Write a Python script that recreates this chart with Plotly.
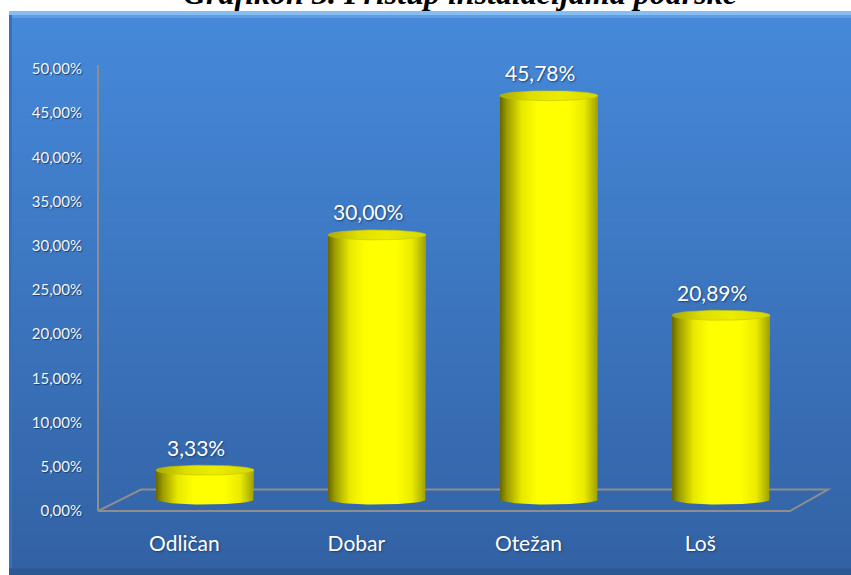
import numpy as np
import plotly.graph_objects as go

categories = ["Odličan", "Dobar", "Otežan", "Loš"]
values = [3.33, 30.00, 45.78, 20.89]
y_ticks = [0, 5, 10, 15, 20, 25, 30, 35, 40, 45, 50]
y_tick_labels = ["0,00%", "5,00%", "10,00%", "15,00%", "20,00%", "25,00%",
                 "30,00%", "35,00%", "40,00%", "45,00%", "50,00%"]
title_text = "Grafikon 3. Pristup instalacijama podrške"

W, H = 851, 575
L, R, T, B = 98, 23, 69, 63.5
PW, PH = W - L - R, H - T - B


def px_x(px):
    return (px - L) / PW


def px_y(py):
    return (H - B - py) / PH


def lerp(c1, c2, f):
    a = [int(c1[i:i + 2], 16) for i in (1, 3, 5)]
    b = [int(c2[i:i + 2], 16) for i in (1, 3, 5)]
    return "#%02x%02x%02x" % tuple(round(a[k] + (b[k] - a[k]) * f) for k in range(3))


shapes = []
# background panel gradient (each band runs to the panel bottom, so no seams)
top_px, bot_px, left_px = 12, 576, 9
n = 80
for k in range(n):
    y0 = top_px + (bot_px - top_px) * k / n
    col = lerp("#4689da", "#3262a4", k / (n - 1))
    shapes.append(dict(type="rect", xref="paper", yref="paper", layer="below",
                       x0=px_x(left_px), x1=px_x(W + 2), y0=px_y(bot_px), y1=px_y(y0),
                       fillcolor=col, line=dict(width=0)))
shapes.append(dict(type="rect", xref="paper", yref="paper", layer="below",
                   x0=px_x(left_px), x1=px_x(W + 2), y0=px_y(15), y1=px_y(11),
                   fillcolor="#86bdf2", line=dict(width=0)))
shapes.append(dict(type="rect", xref="paper", yref="paper", layer="below",
                   x0=px_x(left_px), x1=px_x(W + 2), y0=px_y(18), y1=px_y(15),
                   fillcolor="#5e9de2", line=dict(width=0)))
shapes.append(dict(type="rect", xref="paper", yref="paper", layer="below",
                   x0=px_x(left_px), x1=px_x(left_px + 3), y0=px_y(575), y1=px_y(15),
                   fillcolor="#3a70b8", line=dict(width=0)))
shapes.append(dict(type="rect", xref="paper", yref="paper", layer="below",
                   x0=px_x(left_px), x1=px_x(W + 2), y0=px_y(576), y1=px_y(569),
                   fillcolor="#2c5790", line=dict(width=0)))
# 3D floor and wall edge
floor = "M {} {} L {} {} L {} {} L {} {} Z".format(
    px_x(98), px_y(511.5), px_x(790), px_y(511.5), px_x(828), px_y(490), px_x(141), px_y(490))
shapes.append(dict(type="path", xref="paper", yref="paper", layer="below", path=floor,
                   line=dict(color="#8e8e8e", width=2)))
shapes.append(dict(type="line", xref="paper", yref="paper", layer="below",
                   x0=0, x1=0, y0=0, y1=px_y(65), line=dict(color="#8e8e8e", width=2)))

fig = go.Figure()

# value axis carrying the tick labels (transparent points keep it drawn)
fig.add_trace(go.Scatter(x=list(range(len(categories))), y=values, mode="markers",
                         marker=dict(size=1, opacity=0), yaxis="y2",
                         hoverinfo="skip", showlegend=False))

hw = 0.285
ry = 5 / 8.83
body_scale = [[0, "#666600"], [0.07, "#9c9c00"], [0.22, "#e8e800"], [0.38, "#ffff00"],
              [0.7, "#ffff00"], [0.86, "#eaea00"], [1, "#9e9e00"]]
cap_scale = [[0, "#a8a800"], [0.3, "#dede00"], [0.6, "#ecec00"], [1, "#d6d600"]]
t = np.linspace(0, np.pi, 40)
tt = np.linspace(0, 2 * np.pi, 90)
for i, v in enumerate(values):
    bx = [i - hw, i - hw, i + hw, i + hw] + list(i + hw * np.cos(t))
    by = [0, v, v, 0] + list(-ry * np.sin(t))
    fig.add_trace(go.Scatter(x=bx, y=by, mode="lines", fill="toself", line=dict(width=0),
                             fillgradient=dict(type="horizontal", colorscale=body_scale),
                             hoverinfo="skip", showlegend=False))
    fig.add_trace(go.Scatter(x=list(i + hw * np.cos(tt)), y=list(v + ry * np.sin(tt)),
                             mode="lines", fill="toself", line=dict(width=0.6, color="#c4c400"),
                             fillgradient=dict(type="horizontal", colorscale=cap_scale),
                             name=categories[i], hovertemplate="%{fullData.name}<extra></extra>",
                             showlegend=False))

annotations = []
for i, v in enumerate(values):
    annotations.append(dict(x=i - 0.05, y=v, xref="x", yref="y", yshift=23,
                            text=f"{v:.2f}%".replace(".", ","), showarrow=False,
                            font=dict(family="Lato", size=21, color="#ffffff",
                                      shadow="1px 1px 2px #1d3f70")))
annotations.append(dict(x=px_x(460), y=px_y(12.5), xref="paper", yref="paper",
                        yanchor="bottom", text="<b><i>" + title_text + "</i></b>",
                        showarrow=False,
                        font=dict(family="Liberation Serif", size=32, color="#000000")))

fig.update_layout(
    width=W, height=H,
    margin=dict(l=L, r=R, t=T, b=B),
    paper_bgcolor="#ffffff", plot_bgcolor="rgba(0,0,0,0)",
    showlegend=False,
    shapes=shapes,
    annotations=annotations,
    xaxis=dict(range=[-0.622, 3.622], tickvals=[i - 0.12 for i in range(len(categories))],
               ticktext=categories, showgrid=False, zeroline=False, showline=False,
               ticks="", ticklabelstandoff=18,
               tickfont=dict(family="Lato", size=21, color="#ffffff",
                             shadow="1px 1px 2px #1d3f70")),
    yaxis=dict(range=[-1.30, 48.81], showticklabels=False, showgrid=False, zeroline=False,
               showline=False, ticks=""),
    yaxis2=dict(range=[0, 50], overlaying="y", side="left", anchor="x",
                tickmode="array", tickvals=y_ticks, ticktext=y_tick_labels,
                showgrid=False, zeroline=False,
                showline=False, ticks="", ticklabelstandoff=15,
                tickfont=dict(family="Lato", size=15, color="#f2f6fc",
                              shadow="1px 1px 1px #1d3f70")),
)

fig.write_html("out.html", config={"displayModeBar": False},
               post_script="document.body.style.margin='0';")
